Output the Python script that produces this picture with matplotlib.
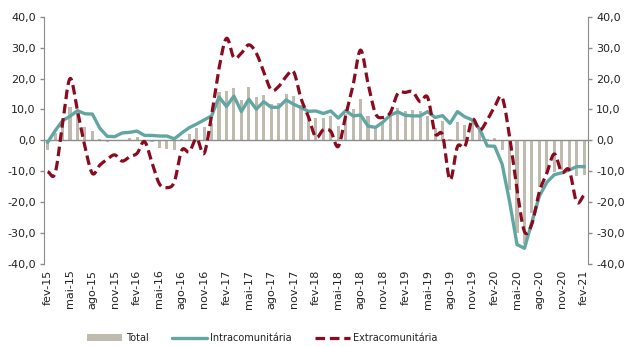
import numpy as np
import matplotlib
matplotlib.use("Agg")
import matplotlib.pyplot as plt
from matplotlib.patches import Patch
from matplotlib.lines import Line2D

# taxas de variação homóloga (%), fev-15 a fev-21
meses = ['jan', 'fev', 'mar', 'abr', 'mai', 'jun', 'jul', 'ago', 'set', 'out', 'nov', 'dez']
datas = [meses[(1 + k) % 12] + '-' + str(15 + (1 + k) // 12) for k in range(73)]

total = [-3.0, 2.5, 6.0, 10.8, 9.0, 4.4, 2.9, 0.4, -0.5, -0.3, 0.2, 0.8, 1.2,
         -0.2, -0.4, -2.6, -2.7, -3.0, 0.6, 2.0, 4.1, 4.2, 5.5, 15.7, 16.0,
         16.8, 13.0, 17.1, 14.1, 14.8, 11.8, 12.0, 14.9, 14.2, 11.5, 7.9, 7.2,
         7.1, 7.9, 4.8, 8.5, 10.2, 13.5, 7.9, 4.2, 5.5, 7.9, 10.5, 9.4, 9.8,
         9.5, 7.9, 3.9, 6.3, 0.3, 6.0, 5.0, 6.5, 3.5, 0.5, 0.9, -3.0, -16.0,
         -29.9, -33.5, -23.6, -15.0, -10.7, -10.3, -9.5, -9.6, -11.4, -11.2]

intra = [-0.6, 3.1, 6.4, 7.8, 9.6, 8.6, 8.5, 3.9, 1.3, 1.2, 2.4, 2.6, 3.0,
         1.6, 1.6, 1.4, 1.4, 0.5, 2.4, 4.1, 5.3, 6.6, 7.9, 14.0, 11.0, 14.3,
         9.3, 13.3, 10.1, 12.5, 10.7, 10.7, 13.1, 11.7, 10.6, 9.4, 9.5, 8.7,
         9.5, 7.2, 9.6, 7.9, 8.2, 4.6, 4.2, 5.9, 8.2, 9.2, 8.1, 7.9, 7.9, 9.3,
         7.4, 8.0, 5.5, 9.3, 7.6, 6.6, 3.6, -1.8, -1.9, -7.7, -19.8, -33.7,
         -34.9, -26.4, -18.0, -13.6, -11.1, -10.5, -9.6, -8.5, -8.5]

extra = [-10.1, -10.6, 5.5, 20.0, 9.5, -2.0, -10.7, -8.0, -6.1, -4.7, -6.7,
         -5.3, -4.2, -0.4, -7.2, -14.1, -15.3, -13.4, -3.2, -3.7, 0.6, -4.2,
         8.2, 23.3, 33.0, 26.7, 28.2, 30.9, 28.2, 22.2, 16.3, 17.4, 20.6,
         22.2, 13.6, 7.6, 1.0, 3.4, 2.9, -2.0, 8.0, 18.0, 29.2, 18.4, 8.7,
         7.4, 9.0, 15.2, 15.5, 15.7, 12.5, 13.9, 2.3, 1.7, -12.8, -2.0, -2.0,
         6.8, 3.3, 6.6, 10.9, 13.9, 1.2, -16.0, -29.5, -27.0, -16.6, -10.6,
         -4.4, -10.3, -9.6, -19.9, -17.7]

c_total = '#bfbbae'
c_intra = '#62a6a2'
c_extra = '#8a0a1f'


def suavizar(x, y, n=12):
    # curva de Catmull-Rom entre pontos consecutivos (linha suavizada)
    x = np.asarray(x, float)
    y = np.asarray(y, float)
    px = np.concatenate([[2 * x[0] - x[1]], x, [2 * x[-1] - x[-2]]])
    py = np.concatenate([[2 * y[0] - y[1]], y, [2 * y[-1] - y[-2]]])
    xs, ys = [], []
    t = np.linspace(0, 1, n, endpoint=False)
    for k in range(1, len(px) - 2):
        for p, out in ((px, xs), (py, ys)):
            p0, p1, p2, p3 = p[k - 1], p[k], p[k + 1], p[k + 2]
            out.extend(0.5 * ((2 * p1) + (-p0 + p2) * t
                              + (2 * p0 - 5 * p1 + 4 * p2 - p3) * t ** 2
                              + (-p0 + 3 * p1 - 3 * p2 + p3) * t ** 3))
    xs.append(x[-1])
    ys.append(y[-1])
    return np.array(xs), np.array(ys)


plt.rcParams['font.family'] = 'DejaVu Sans'
fig = plt.figure(figsize=(6.28, 3.47), dpi=100)
ax = fig.add_axes([0.070, 0.239, 0.866, 0.713])

x = np.arange(len(datas))
ax.bar(x, total, width=0.42, color=c_total, zorder=1)
ax.axhline(0, color='#8c8c8c', lw=1.0, zorder=2)
ax.plot(x, intra, color=c_intra, lw=2.4, solid_joinstyle='round', zorder=3)
sx, sy = suavizar(x, extra)
ax.plot(sx, sy, color=c_extra, lw=2.3, linestyle=(0, (3.0, 1.5)), zorder=4)

ax.set_xlim(-0.5, len(datas) - 0.5)
ax.set_ylim(-40, 40)
ax.set_yticks(np.arange(-40, 41, 10))
ax.set_yticklabels([f'{v:.1f}'.replace('.', ',') for v in np.arange(-40, 41, 10)])
ax.set_xticks(x[::3])
ax.set_xticklabels(datas[::3], rotation=90)
ax.tick_params(axis='x', length=0, pad=4, labelsize=8, colors='#222222')
ax.tick_params(axis='y', length=3, width=1, color='#8c8c8c', labelsize=8,
               labelcolor='#222222', pad=3)

ax2 = ax.twinx()
ax2.set_ylim(-40, 40)
ax2.set_yticks(ax.get_yticks())
ax2.set_yticklabels(ax.get_yticklabels())
ax2.tick_params(axis='y', length=3, width=1, color='#8c8c8c', labelsize=8,
                labelcolor='#222222', pad=3)

for a in (ax, ax2):
    a.spines['top'].set_visible(False)
    a.spines['bottom'].set_visible(False)
    a.spines['left'].set_color('#8c8c8c')
    a.spines['right'].set_color('#8c8c8c')
ax.spines['right'].set_visible(False)
ax2.spines['left'].set_visible(False)

handles = [Patch(facecolor=c_total, edgecolor='none'),
           Line2D([], [], color=c_intra, lw=2.4, solid_capstyle='round'),
           Line2D([], [], color=c_extra, lw=2.3, linestyle=(0, (3.0, 1.5)))]
fig.legend(handles, ['Total', 'Intracomunitária', 'Extracomunitária'],
           loc='center', bbox_to_anchor=(0.418, 0.026), ncol=3, frameon=False,
           fontsize=7, handlelength=3.6, handleheight=0.7, columnspacing=2.4,
           handletextpad=0.35, labelcolor='#222222')

fig.savefig('out.png', dpi=100)
